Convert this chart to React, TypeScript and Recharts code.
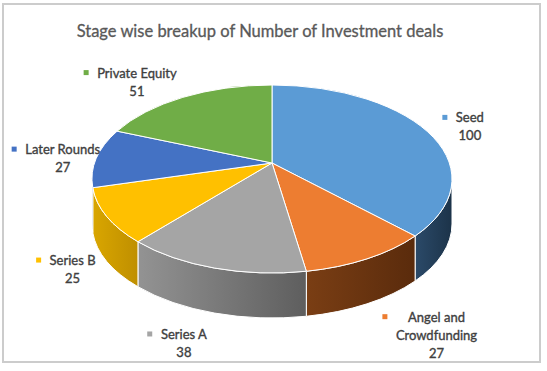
import React from 'react';
import { PieChart, Pie } from 'recharts';

// ---- data ----
const categories = ['Seed', 'Angel and Crowdfunding', 'Series A', 'Series B', 'Later Rounds', 'Private Equity'];
const deals = [100, 27, 38, 25, 27, 51];
const labelLines = [['Seed'], ['Angel and', 'Crowdfunding'], ['Series A'], ['Series B'], ['Later Rounds'], ['Private Equity']];
const chartTitle = 'Stage wise breakup of Number of Investment deals';

// ---- styling ----
const topColors = ['#5B9BD5', '#ED7D31', '#A5A5A5', '#FFC000', '#4472C4', '#70AD47'];
const wallColors = [
  ['#2B4A69', '#1C3349'],
  ['#7A3E14', '#5A2B0C'],
  ['#939393', '#5E5E5E'],
  ['#D9A600', '#BF8F00'],
  ['#2F5597', '#203E70'],
  ['#507E32', '#3D6126'],
];
// label offsets (px) from the slice's outer edge point
const labelNudge = [[45, -7], [69, 18], [-30, 26], [-34, 4], [-34, -3.5], [-48.5, -19]];

const data = categories.map((name, i) => ({ name, value: deals[i] }));

const W = 547;
const H = 371;
const RATIO = 94 / 180; // vertical squash of the tilted disc
const ECY_OFF = 16 / 180; // ellipse centre below the apex (perspective)
const DEPTH = 45 / 180; // wall thickness
const FONT = 'Lato, "Open Sans", sans-serif';

function edge(cx: number, cy: number, rx: number, thetaDeg: number) {
  const ry = rx * RATIO;
  const ecy = cy + rx * ECY_OFF;
  const th = (thetaDeg * Math.PI) / 180;
  const dx = Math.sin(th) * rx;
  const dy = -Math.cos(th) * ry;
  const dy0 = cy - ecy;
  const a = (dx / rx) ** 2 + (dy / ry) ** 2;
  const b = (2 * dy0 * dy) / (ry * ry);
  const c = (dy0 / ry) ** 2 - 1;
  const t = (-b + Math.sqrt(b * b - 4 * a * c)) / (2 * a);
  const x = cx + dx * t;
  const y = cy + dy * t;
  let phi = (Math.atan2((y - ecy) / ry, (x - cx) / rx) * 180) / Math.PI;
  if (phi < 0) phi += 360;
  return { x, y, phi, ecy, ry };
}

function ellPt(cx: number, ecy: number, rx: number, ry: number, phiDeg: number) {
  const p = (phiDeg * Math.PI) / 180;
  return { x: cx + rx * Math.cos(p), y: ecy + ry * Math.sin(p) };
}

function idxOf(props: any) {
  const n = props.name ?? props.payload?.name;
  const i = categories.indexOf(n);
  return i >= 0 ? i : props.index ?? 0;
}

const Slice3D = (props: any) => {
  const { cx, cy, outerRadius, startAngle, endAngle } = props;
  const i = idxOf(props);
  const rx = outerRadius;
  const ry = rx * RATIO;
  const depth = rx * DEPTH;
  const p1 = edge(cx, cy, rx, 90 - startAngle);
  const p2 = edge(cx, cy, rx, 90 - endAngle);
  const ecy = p1.ecy;
  const f1 = p1.phi;
  let f2 = p2.phi;
  while (f2 <= f1) f2 += 360;
  const walls: React.ReactNode[] = [];
  [0, 360].forEach((k) => {
    const a = Math.max(f1, k);
    const b = Math.min(f2, k + 180);
    if (b > a + 0.01) {
      const A = ellPt(cx, ecy, rx, ry, a);
      const B = ellPt(cx, ecy, rx, ry, b);
      const d = `M${A.x},${A.y} A${rx},${ry} 0 0 1 ${B.x},${B.y} L${B.x},${B.y + depth} A${rx},${ry} 0 0 0 ${A.x},${A.y + depth} Z`;
      walls.push(<path key={k} d={d} fill={`url(#wall${i})`} stroke="#ffffff" strokeWidth={1} strokeLinejoin="round" />);
    }
  });
  const large = f2 - f1 > 180 ? 1 : 0;
  const top = `M${cx},${cy} L${p1.x},${p1.y} A${rx},${ry} 0 ${large} 1 ${p2.x},${p2.y} Z`;
  return (
    <g>
      <defs>
        <linearGradient id={`wall${i}`} x1="0" y1="0" x2="1" y2="0">
          <stop offset="0%" stopColor={wallColors[i][0]} />
          <stop offset="100%" stopColor={wallColors[i][1]} />
        </linearGradient>
      </defs>
      {walls}
      <path d={top} fill={topColors[i]} stroke="#ffffff" strokeWidth={1} strokeLinejoin="round" />
    </g>
  );
};

let ctx: CanvasRenderingContext2D | null = null;
function measure(s: string, size: number) {
  if (!ctx) ctx = document.createElement('canvas').getContext('2d');
  if (!ctx) return s.length * size * 0.5;
  ctx.font = `${size}px ${FONT}`;
  return ctx.measureText(s).width;
}

const renderLabel = (props: any) => {
  const { cx, cy, outerRadius, midAngle } = props;
  const i = idxOf(props);
  const rx = outerRadius;
  const p = edge(cx, cy, rx, 90 - midAngle);
  const front = p.y > p.ecy;
  const bx = p.x;
  const by = p.y + (front ? rx * DEPTH : 0);
  const x = bx + labelNudge[i][0];
  const y0 = by + labelNudge[i][1];
  const lines = [...labelLines[i], String(deals[i])];
  const fs = 13;
  const lh = 18;
  const maxW = Math.max(...lines.map((l) => measure(l, fs)));
  const mx = x - maxW / 2 - 11;
  return (
    <g key={`lbl${i}`}>
      <rect x={mx - 2.5} y={y0 - 7.5} width={5} height={5} fill={topColors[i]} />
      {lines.map((l, j) => (
        <text
          key={j}
          x={x}
          y={y0 + j * lh}
          textAnchor="middle"
          fontSize={fs}
          fontFamily={FONT}
          fill="#404040"
          stroke="#404040"
          strokeWidth={0.35}
        >
          {l}
        </text>
      ))}
    </g>
  );
};

export default function App() {
  return (
    <div style={{ position: 'absolute', left: 0, top: 0, width: W, height: H, background: '#ffffff' }}>
      <div
        style={{
          position: 'absolute',
          left: 2,
          top: 3,
          width: 535,
          height: 356,
          border: '2px solid #cccccc',
          pointerEvents: 'none',
        }}
      />
      <div style={{ position: 'absolute', left: 0, top: 0 }}>
        <PieChart width={W} height={H} margin={{ top: 0, right: 0, bottom: 0, left: 0 }}>
          <text
            x={260}
            y={37}
            textAnchor="middle"
            fontSize={16.5}
            fontFamily={FONT}
            fill="#595959"
            stroke="#595959"
            strokeWidth={0.3}
          >
            {chartTitle}
          </text>
          <Pie
            data={data}
            dataKey="value"
            nameKey="name"
            cx={272}
            cy={163}
            outerRadius={180}
            startAngle={90}
            endAngle={-270}
            isAnimationActive={false}
            stroke="#ffffff"
            shape={Slice3D}
            label={renderLabel}
            labelLine={false}
          />
        </PieChart>
      </div>
    </div>
  );
}
